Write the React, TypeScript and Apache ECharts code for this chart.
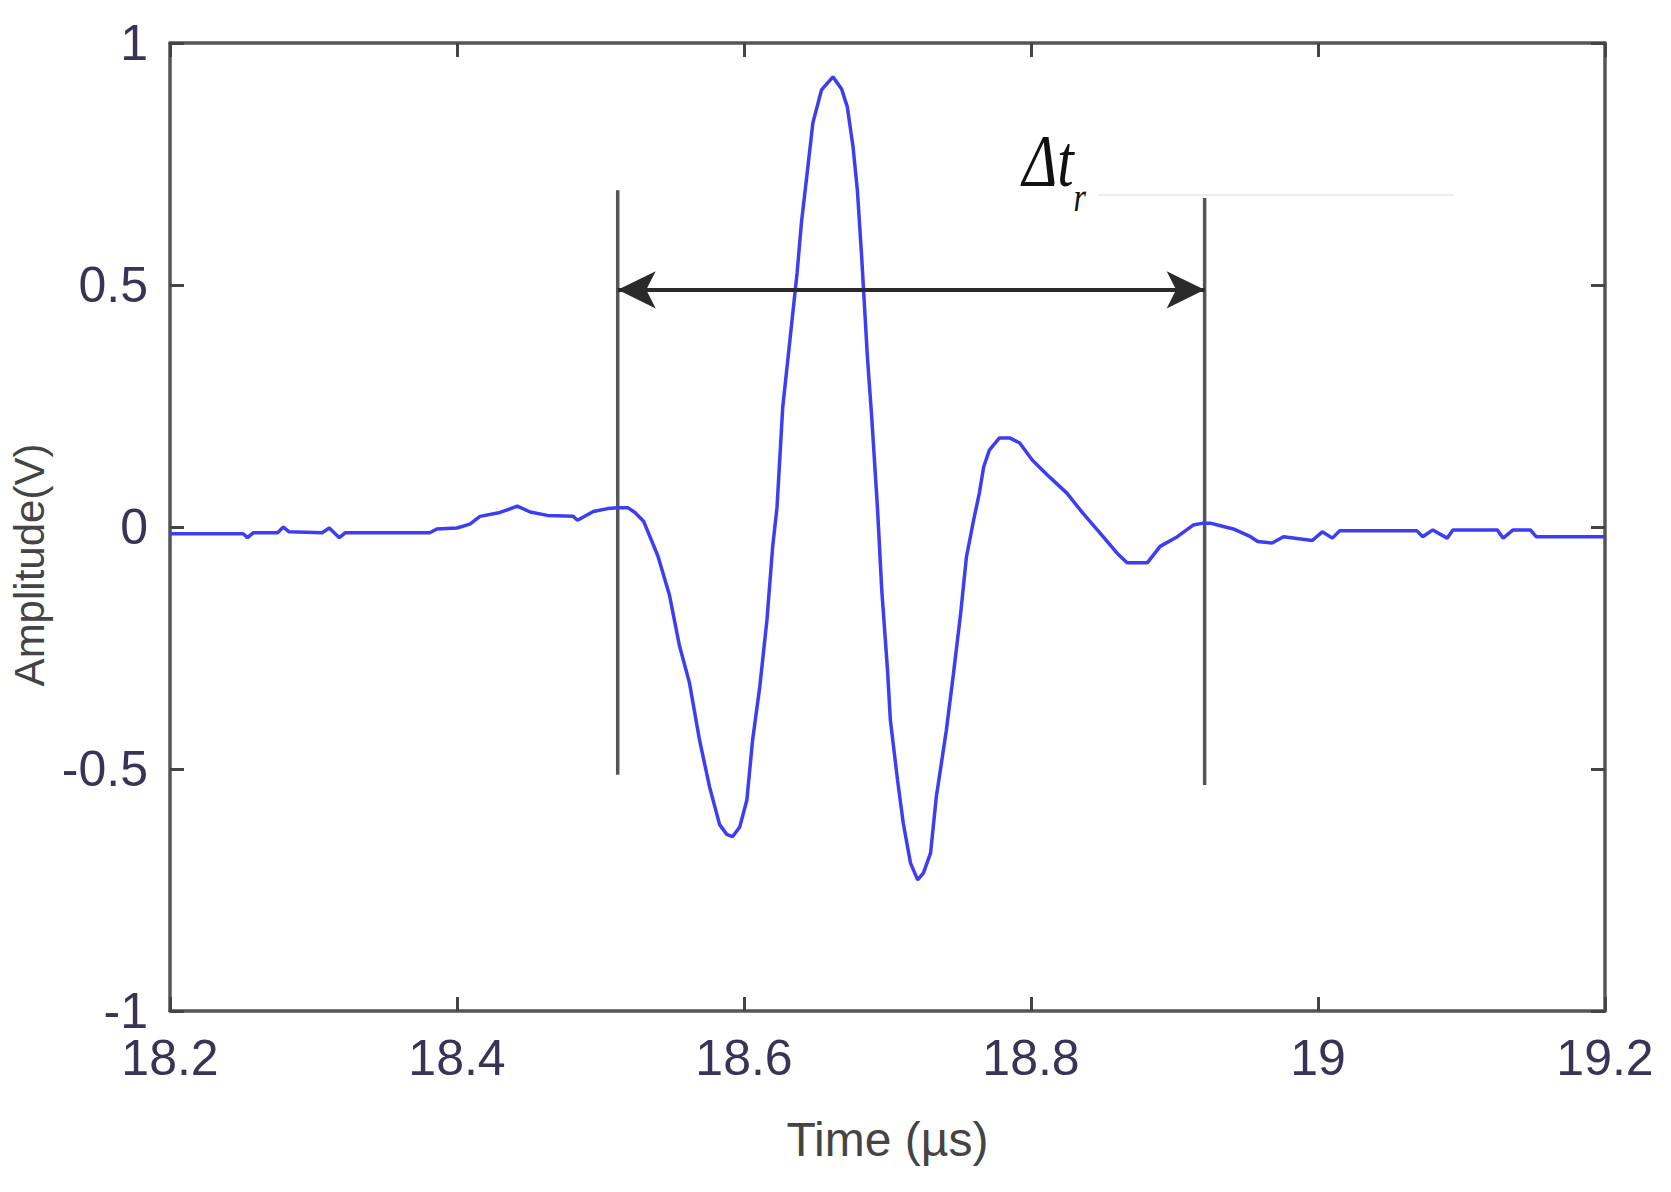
import React, { useEffect, useRef } from "react";
import * as echarts from "echarts";

const timeUs = [
  18.2, 18.251, 18.254, 18.258, 18.275, 18.279, 18.283, 18.306, 18.311, 18.318,
  18.322, 18.381, 18.386, 18.4, 18.409, 18.416, 18.43, 18.442, 18.451, 18.463,
  18.481, 18.484, 18.495, 18.505, 18.512, 18.519, 18.524, 18.53, 18.54, 18.548,
  18.555, 18.562, 18.569, 18.576, 18.583, 18.588, 18.592, 18.597, 18.602, 18.606,
  18.611, 18.616, 18.62, 18.623, 18.627, 18.632, 18.637, 18.64, 18.644, 18.648,
  18.654, 18.662, 18.668, 18.672, 18.676, 18.679, 18.682, 18.684, 18.686, 18.689,
  18.693, 18.696, 18.7, 18.702, 18.707, 18.711, 18.716, 18.721, 18.725, 18.73,
  18.734, 18.741, 18.746, 18.751, 18.755, 18.76, 18.764, 18.767, 18.771, 18.778,
  18.785, 18.792, 18.801, 18.813, 18.825, 18.836, 18.848, 18.86, 18.867, 18.881,
  18.89, 18.902, 18.913, 18.92, 18.925, 18.93, 18.941, 18.953, 18.958, 18.968,
  18.976, 18.996, 19.003, 19.01, 19.015, 19.069, 19.073, 19.08, 19.09, 19.094,
  19.125, 19.129, 19.136, 19.148, 19.152, 19.2,
];
const amplitudeV = [
  -0.014, -0.014, -0.022, -0.012, -0.012, 0.0, -0.01, -0.012, -0.002, -0.022,
  -0.012, -0.012, -0.004, -0.002, 0.006, 0.022, 0.03, 0.043, 0.031, 0.024,
  0.022, 0.014, 0.032, 0.038, 0.04, 0.04, 0.03, 0.012, -0.06, -0.14,
  -0.245, -0.322, -0.44, -0.537, -0.615, -0.635, -0.64, -0.62, -0.564, -0.44,
  -0.33, -0.192, -0.04, 0.04, 0.248, 0.386, 0.525, 0.628, 0.731, 0.835,
  0.903, 0.93, 0.905, 0.868, 0.785, 0.696, 0.558, 0.455, 0.351, 0.227,
  0.04, -0.13, -0.295, -0.399, -0.523, -0.612, -0.694, -0.729, -0.715, -0.674,
  -0.558, -0.42, -0.302, -0.178, -0.062, 0.014, 0.07, 0.124, 0.159, 0.184,
  0.184, 0.174, 0.138, 0.103, 0.07, 0.029, -0.012, -0.054, -0.074, -0.074,
  -0.04, -0.02, 0.004, 0.008, 0.008, 0.004, -0.004, -0.02, -0.03, -0.033,
  -0.02, -0.028, -0.01, -0.023, -0.008, -0.008, -0.02, -0.006, -0.023, -0.006,
  -0.006, -0.023, -0.006, -0.006, -0.02, -0.02,
];

// Δt_r marker lines (time, top, bottom) and arrow level
const markerTimes = [18.512, 18.921];
const markerTop = [0.696, 0.68];
const markerBottom = [-0.512, -0.533];
const arrowLevel = 0.49;
// Annotation anchor (time, amplitude) for the Δt_r label
const labelAnchor = [18.794, 0.758];
const faintLineTimes = [18.847, 19.095];
const faintLineLevel = 0.686;

const xMin = 18.2;
const xMax = 19.2;
const xStep = 0.2;
const yMin = -1;
const yMax = 1;
const yStep = 0.5;

const tickColor = "#3a3358";
const frameColor = "#555555";

export default function App() {
  const ref = useRef<HTMLDivElement>(null);

  useEffect(() => {
    if (!ref.current) return;
    const chart = echarts.init(ref.current, null, { renderer: "svg" });

    const axisLine = { show: true, onZero: false, lineStyle: { color: frameColor, width: 3.5 } };
    const axisTick = { show: true, inside: true, length: 14, lineStyle: { color: "#444", width: 3 } };
    const labelFont = {
      fontSize: 50,
      color: tickColor,
      fontFamily: "Liberation Sans, Arial, sans-serif",
    };

    const option: any = {
      animation: false,
      backgroundColor: "#ffffff",
      textStyle: { fontFamily: "Liberation Sans, Arial, sans-serif" },
      grid: { left: 170, right: 66, top: 43, bottom: 181, containLabel: false },
      xAxis: [
        {
          type: "value",
          position: "bottom",
          min: xMin,
          max: xMax,
          interval: xStep,
          axisLine,
          axisTick,
          splitLine: { show: false },
          axisLabel: {
            ...labelFont,
            margin: 22,
            formatter: (v: number) => String(parseFloat(v.toFixed(1))),
          },
          name: "Time (µs)",
          nameLocation: "middle",
          nameGap: 104,
          nameTextStyle: { fontSize: 48, color: "#444444", fontFamily: "Liberation Sans, Arial, sans-serif" },
        },
        {
          type: "value",
          position: "top",
          min: xMin,
          max: xMax,
          interval: xStep,
          axisLine,
          axisTick,
          splitLine: { show: false },
          axisLabel: { show: false },
        },
      ],
      yAxis: [
        {
          type: "value",
          position: "left",
          min: yMin,
          max: yMax,
          interval: yStep,
          axisLine,
          axisTick,
          splitLine: { show: false },
          axisLabel: {
            ...labelFont,
            margin: 22,
            formatter: (v: number) => String(v),
          },
          name: "Amplitude(V)",
          nameLocation: "middle",
          nameGap: 98,
          nameTextStyle: {
            fontSize: 42,
            color: "#444444",
            fontFamily: "Liberation Sans, Arial, sans-serif",
            padding: [0, 76, 0, 0],
          },
        },
        {
          type: "value",
          position: "right",
          min: yMin,
          max: yMax,
          interval: yStep,
          axisLine,
          axisTick,
          splitLine: { show: false },
          axisLabel: { show: false },
        },
      ],
      series: [
        {
          name: "faint",
          type: "line",
          silent: true,
          showSymbol: false,
          symbol: "none",
          data: faintLineTimes.map((t) => [t, faintLineLevel]),
          lineStyle: { color: "#eeeeee", width: 2 },
          z: 1,
        },
        {
          name: "marker-left",
          type: "line",
          silent: true,
          showSymbol: false,
          symbol: "none",
          data: [
            [markerTimes[0], markerTop[0]],
            [markerTimes[0], markerBottom[0]],
          ],
          lineStyle: { color: "#555555", width: 3.5 },
          z: 2,
          markLine: {
            silent: true,
            symbol: ["arrow", "arrow"],
            symbolSize: [28, 38],
            label: { show: false },
            emphasis: { disabled: true },
            lineStyle: { color: "#2a2a2a", width: 4, type: "solid" },
            data: [
              [
                { coord: [markerTimes[0], arrowLevel] },
                { coord: [markerTimes[1], arrowLevel] },
              ],
            ],
          },
        },
        {
          name: "marker-right",
          type: "line",
          silent: true,
          showSymbol: false,
          symbol: "none",
          data: [
            [markerTimes[1], markerTop[1]],
            [markerTimes[1], markerBottom[1]],
          ],
          lineStyle: { color: "#555555", width: 3.5 },
          z: 2,
        },
        {
          name: "Amplitude",
          type: "line",
          showSymbol: false,
          symbol: "none",
          data: timeUs.map((t, i) => [t, amplitudeV[i]]),
          lineStyle: { color: "#3d3df2", width: 3.5 },
          z: 3,
        },
      ],
    };

    chart.setOption(option);

    const anchor = chart.convertToPixel({ gridIndex: 0 }, labelAnchor) as number[];
    chart.setOption({
      graphic: [
        {
          type: "text",
          x: anchor[0],
          y: anchor[1],
          scaleX: 0.8,
          silent: true,
          style: {
            text: "{a|Δt}{b|r}",
            align: "left",
            verticalAlign: "middle",
            fill: "#111111",
            rich: {
              a: {
                fontSize: 74,
                fontStyle: "italic",
                fontFamily: "Liberation Serif, Times New Roman, serif",
                color: "#111111",
                lineHeight: 80,
              },
              b: {
                fontSize: 40,
                fontStyle: "italic",
                fontFamily: "Liberation Serif, Times New Roman, serif",
                color: "#111111",
                lineHeight: 44,
                padding: [76, 0, 0, 0],
              },
            },
          },
          z: 10,
        },
      ],
    });

    return () => chart.dispose();
  }, []);

  return (
    <div
      ref={ref}
      style={{ position: "fixed", left: 0, top: 0, width: 1671, height: 1192, background: "#fff" }}
    />
  );
}
